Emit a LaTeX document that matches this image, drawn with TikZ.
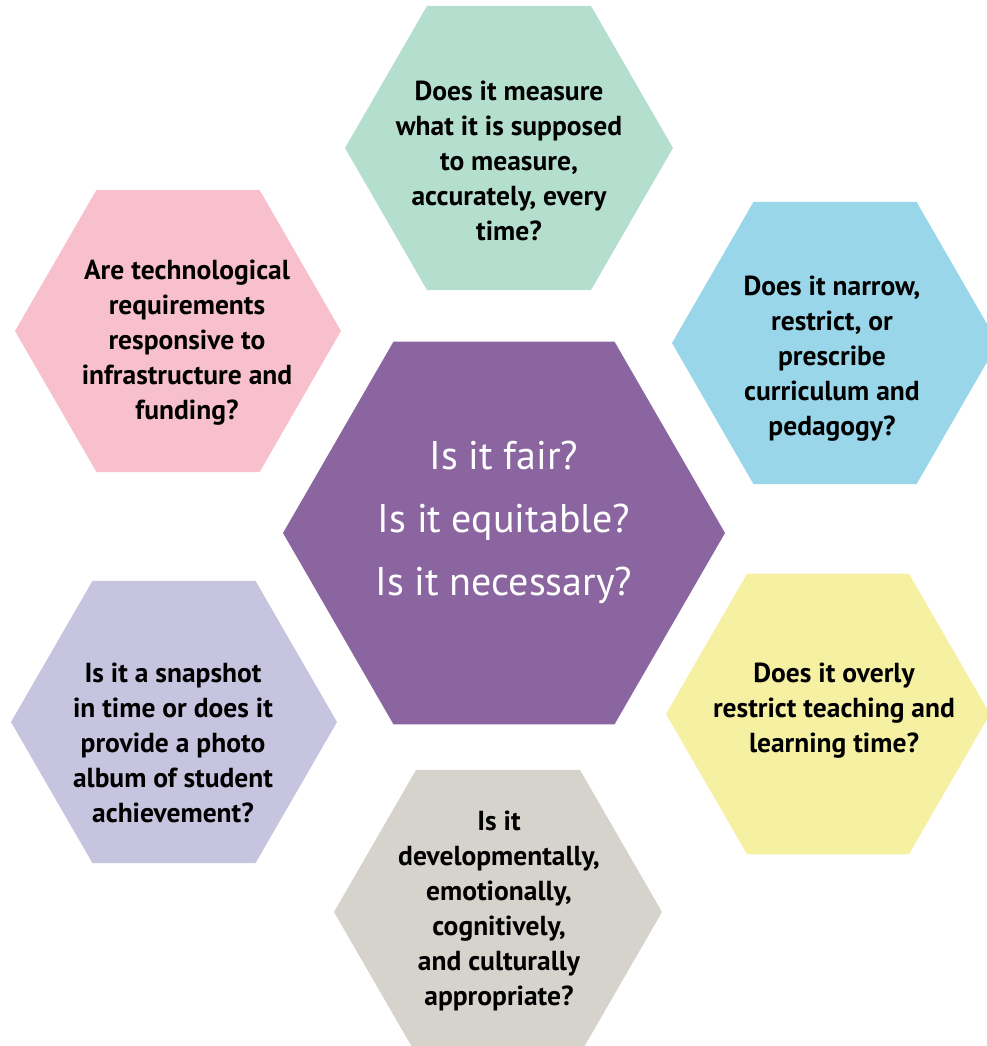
\documentclass[tikz,border=0pt]{standalone}
\usepackage{fontspec}
\setmainfont{PT Sans}
\usepackage{tikz}
\usetikzlibrary{positioning, shapes.geometric}
\definecolor{hexTeal}{RGB}{180,223,206}
\definecolor{hexPink}{RGB}{247,192,204}
\definecolor{hexBlue}{RGB}{153,214,234}
\definecolor{hexYellow}{RGB}{246,240,163}
\definecolor{hexLilac}{RGB}{198,196,222}
\definecolor{hexGrey}{RGB}{214,211,205}
\definecolor{hexPurple}{RGB}{139,101,160}
\tikzstyle{hexNode}=[regular polygon, regular polygon sides=6, inner sep=0pt, draw=none]
\tikzstyle{questionText}=[align=center, text=black, font=\bfseries\fontsize{27.5}{35}\selectfont]
\tikzstyle{centreText}=[align=center, text=white, font=\fontsize{40}{63}\selectfont]

\begin{document}
\begin{tikzpicture}[x=1pt, y=-1pt]
  \useasboundingbox (0,0) rectangle (987,1046);
  \clip (0,0) rectangle (987,1046);

  % outer ring
  \node[hexNode, fill=hexTeal, minimum size=328pt] (hexTop) at (509,148) {};
  \node[hexNode, fill=hexPink, minimum size=326pt] (hexTopLeft) at (178,331) {};
  \node[hexNode, fill=hexBlue, minimum size=326pt] (hexTopRight) at (835,343) {};
  \node[hexNode, fill=hexYellow, minimum size=324pt] (hexBottomRight) at (828,714) {};
  \node[hexNode, fill=hexLilac, minimum size=326pt] (hexBottomLeft) at (174,722) {};
  \node[hexNode, fill=hexGrey, minimum size=328pt] (hexBottom) at (498,912) {};

  % centre
  \node[hexNode, fill=hexPurple, minimum size=442pt] (hexCentre) at (504,533) {};

  \node[questionText] (qTop) at (509,161)
    {Does it measure\\what it is supposed\\to measure,\\accurately, every\\time?};
  \node[questionText] (qTopLeft) at (187,343)
    {Are technological\\requirements\\responsive to\\infrastructure and\\funding?};
  \node[questionText] (qTopRight) at (832,359)
    {Does it narrow,\\restrict, or\\prescribe\\curriculum and\\pedagogy?};
  \node[questionText] (qBottomRight) at (834,711)
    {Does it overly\\restrict teaching and\\learning time?};
  \node[questionText] (qBottomLeft) at (173,743)
    {Is it a snapshot\\in time or does it\\provide a photo\\album of student\\achievement?};
  \node[questionText] (qBottom) at (499,911)
    {Is it\\developmentally,\\emotionally,\\cognitively,\\and culturally\\appropriate?};

  \node[centreText] (qCentre) at (504,522)
    {Is it fair?\\Is it equitable?\\Is it necessary?};
\end{tikzpicture}
\end{document}
